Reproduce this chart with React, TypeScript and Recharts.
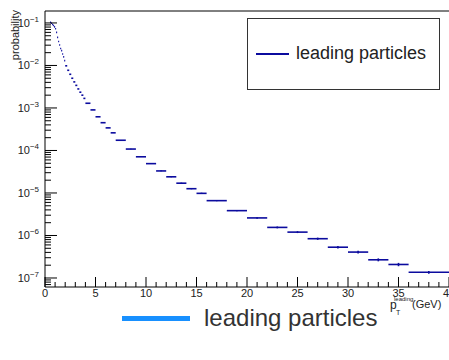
import { ScatterChart, Scatter, XAxis, YAxis, ErrorBar, Legend, ReferenceLine } from "recharts";

// bin edges of the leading-particle pT histogram (GeV)
const binEdges = [
  0.5, 0.6, 0.7, 0.8, 0.9, 1.0, 1.1, 1.2, 1.3, 1.4, 1.5, 1.6, 1.7, 1.8, 1.9, 2.0,
  2.2, 2.4, 2.6, 2.8, 3.0, 3.2, 3.4, 3.6, 3.8, 4.0,
  4.5, 5.0, 5.5, 6.0, 6.5, 7.0,
  8, 9, 10, 11, 12, 13, 14, 15, 16,
  18, 20, 22, 24, 26, 28, 30, 32, 34, 36, 40,
];

const probability = [
  0.103, 0.098, 0.092, 0.087, 0.081, 0.073, 0.06, 0.0457, 0.0367, 0.0304, 0.0251, 0.0223, 0.0186, 0.0159, 0.013,
  0.0098, 0.0077, 0.0062, 0.005, 0.0041, 0.0034, 0.0028, 0.00235, 0.002, 0.00168,
  0.00129, 0.0009, 0.00062, 0.00045, 0.00034, 0.00026,
  1.74e-4, 1.08e-4, 7.1e-5, 4.9e-5, 3.3e-5, 2.4e-5, 1.7e-5, 1.26e-5, 9.8e-6,
  6.6e-6, 3.84e-6, 2.59e-6, 1.55e-6, 1.2e-6, 8.4e-7, 5.3e-7, 4.07e-7, 2.68e-7, 2.08e-7, 1.36e-7,
];

// relative statistical error per bin
const relErr = [
  0.003, 0.003, 0.003, 0.003, 0.003, 0.003, 0.003, 0.003, 0.003, 0.003, 0.003, 0.003, 0.003, 0.003, 0.003,
  0.003, 0.003, 0.003, 0.003, 0.003, 0.003, 0.003, 0.003, 0.003, 0.003,
  0.005, 0.005, 0.005, 0.005, 0.005, 0.005,
  0.01, 0.012, 0.015, 0.018, 0.02, 0.025, 0.03, 0.03, 0.035,
  0.03, 0.035, 0.04, 0.05, 0.05, 0.06, 0.07, 0.07, 0.08, 0.09, 0.08,
];

const yDecades = [-7, -6, -5, -4, -3, -2, -1];
const xMajorTicks = [0, 5, 10, 15, 20, 25, 30, 35, 40];
const seriesName = "leading particles";

const Y_DOMAIN: [number, number] = [6.14e-8, 0.191];
const LINE_COLOR = "#0b0b9e";
const FONT = "'Liberation Sans', Arial, Helvetica, sans-serif";

const data = probability.map((p, i) => ({
  x: (binEdges[i] + binEdges[i + 1]) / 2,
  y: p,
  xErr: (binEdges[i + 1] - binEdges[i]) / 2,
  yErr: p * relErr[i],
}));

// major + minor ticks for the log axis
const yTicks: number[] = [];
for (let e = -8; e <= 0; e++) {
  for (let m = 1; m <= 9; m++) {
    const v = m * Math.pow(10, e);
    if (v >= Y_DOMAIN[0] && v <= Y_DOMAIN[1]) yTicks.push(v);
  }
}

const xTicks: number[] = [];
for (let i = 0; i <= 40; i++) xTicks.push(i);

const YTick = (props: any) => {
  const { x, y, payload } = props;
  const v = payload.value;
  const exp = Math.round(Math.log10(v));
  const major = Math.abs(v / Math.pow(10, exp) - 1) < 1e-6 && yDecades.includes(exp);
  return (
    <g>
      <line x1={x} x2={x + (major ? 12 : 6)} y1={y} y2={y} stroke="#000" />
      {major && (
        <text x={x - 6} y={y + 4} textAnchor="end" fontSize={11} fill="#222" fontFamily={FONT}>
          <tspan>10</tspan>
          <tspan dy={-5} fontSize={8}>{"\u2212" + -exp}</tspan>
        </text>
      )}
    </g>
  );
};

const XTick = (props: any) => {
  const { x, y, payload } = props;
  const v = payload.value;
  const major = xMajorTicks.includes(v);
  return (
    <g>
      <line x1={x} x2={x} y1={y} y2={y - (major ? 10 : 5)} stroke="#000" />
      {major && (
        <text x={x} y={y + 10} textAnchor="middle" fontSize={11} fill="#222" fontFamily={FONT}>
          {v}
        </text>
      )}
    </g>
  );
};

const XTitle = (props: any) => {
  const { viewBox } = props;
  const right = viewBox.x + viewBox.width;
  return (
    <g fill="#222" fontFamily={FONT}>
      <text x={right - 59} y={309} fontSize={12}>p</text>
      <text x={right - 53} y={315} fontSize={7}>T</text>
      <text x={right - 55} y={301} fontSize={6}>leading</text>
      <text x={right - 37} y={308} fontSize={11}>(GeV)</text>
    </g>
  );
};

const YTitle = () => (
  <text
    x={18.5}
    y={10}
    transform="rotate(-90, 18.5, 10)"
    textAnchor="end"
    fontSize={11}
    fill="#222"
    fontFamily={FONT}
  >
    probability
  </text>
);

const BottomLegend = () => (
  <div style={{ display: "flex", alignItems: "center", height: 28, paddingLeft: 122, fontFamily: FONT }}>
    <span style={{ display: "inline-block", width: 68, height: 5, background: "#1890ff", marginRight: 14 }} />
    <span style={{ fontSize: 24, color: "#333", lineHeight: "28px" }}>{seriesName}</span>
  </div>
);

export default function App() {
  return (
    <div style={{ position: "absolute", left: 0, top: 0, width: 449, height: 360, background: "#fff" }}>
      <ScatterChart width={449} height={360} margin={{ top: 11, right: 0, left: 0, bottom: 43 }}>
        <XAxis
          type="number"
          dataKey="x"
          domain={[0, 40]}
          ticks={xTicks}
          interval={0}
          allowDataOverflow
          height={30}
          tickSize={0}
          tickMargin={0}
          tickLine={false}
          axisLine={{ stroke: "#000" }}
          tick={<XTick />}
          label={{ content: <XTitle /> }}
        />
        <YAxis
          type="number"
          dataKey="y"
          scale="log"
          domain={Y_DOMAIN}
          ticks={yTicks}
          interval={0}
          allowDataOverflow
          width={45}
          tickSize={0}
          tickMargin={0}
          tickLine={false}
          axisLine={{ stroke: "#000" }}
          tick={<YTick />}
          label={{ content: <YTitle /> }}
        />
        <ReferenceLine y={Y_DOMAIN[1]} stroke="#000" ifOverflow="extendDomain" />
        <Scatter
          name={seriesName}
          data={data}
          isAnimationActive={false}
          shape={() => <g />}
        >
          <ErrorBar dataKey="xErr" direction="x" width={0} stroke={LINE_COLOR} strokeWidth={1.6} isAnimationActive={false} />
          <ErrorBar dataKey="yErr" direction="y" width={0} stroke={LINE_COLOR} strokeWidth={1.6} isAnimationActive={false} />
        </Scatter>
        <Legend
          layout="horizontal"
          verticalAlign="middle"
          align="center"
          wrapperStyle={{ top: 304, left: 0, width: 449 }}
          content={<BottomLegend />}
        />
      </ScatterChart>
      <div
        style={{
          position: "absolute",
          left: 247,
          top: 18,
          width: 191,
          height: 70,
          border: "1px solid #333",
          background: "#fff",
          fontFamily: FONT,
        }}
      >
        <span
          style={{ position: "absolute", left: 8, top: 34, width: 33, height: 1.5, background: LINE_COLOR }}
        />
        <span style={{ position: "absolute", left: 48, top: 24, fontSize: 18, color: "#222", lineHeight: "20px" }}>
          {seriesName}
        </span>
      </div>
    </div>
  );
}
